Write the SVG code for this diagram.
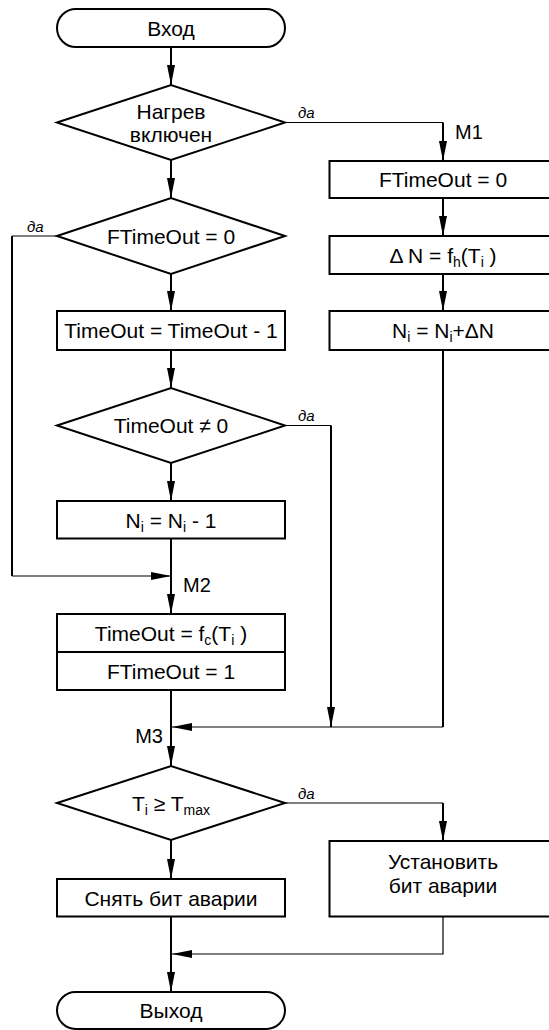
<svg xmlns="http://www.w3.org/2000/svg" width="549" height="1030" viewBox="0 0 549 1030">
<style>
.s{fill:#fff;stroke:#000;stroke-width:2}
.t{font-family:"Liberation Sans",Arial,sans-serif;font-size:21px;fill:#000;text-anchor:middle}
.l{font-family:"Liberation Sans",Arial,sans-serif;font-size:20px;fill:#000}
.y{font-family:"Liberation Sans",Arial,sans-serif;font-size:15px;font-style:italic;fill:#000}
.c{fill:none;stroke:#000;stroke-width:2}
.n{fill:none;stroke:#000;stroke-width:1.2}
.sub{font-size:14px}
</style>
<defs>
<marker id="a" markerUnits="userSpaceOnUse" markerWidth="20" markerHeight="8" refX="20" refY="4" orient="auto">
<path d="M0,0 L20,4 L0,8 z" fill="#000"/>
</marker>
</defs>
<rect width="549" height="1030" fill="#fff"/>
<g id="connectors">
<path class="c" d="M171,47 V85" marker-end="url(#a)"/>
<path class="n" d="M285,122.5 H443"/>
<path class="c" d="M443,122.5 V161" marker-end="url(#a)"/>
<path class="c" d="M171,160 V198" marker-end="url(#a)"/>
<path class="c" d="M443,198 V236" marker-end="url(#a)"/>
<path class="c" d="M443,274 V311" marker-end="url(#a)"/>
<path class="n" d="M57,236 H12"/>
<path class="c" d="M12,236 V576"/>
<path class="n" d="M12,576 H171" marker-end="url(#a)"/>
<path class="c" d="M171,274 V311" marker-end="url(#a)"/>
<path class="c" d="M171,350 V388" marker-end="url(#a)"/>
<path class="n" d="M285,425.5 H331"/>
<path class="c" d="M331,425.5 V727" marker-end="url(#a)"/>
<path class="c" d="M171,463 V501" marker-end="url(#a)"/>
<path class="c" d="M171,538.5 V614" marker-end="url(#a)"/>
<path class="c" d="M443,350 V727"/>
<path class="n" d="M443,727 H172" marker-end="url(#a)"/>
<path class="c" d="M171,690 V766" marker-end="url(#a)"/>
<path class="n" d="M285,803 H443"/>
<path class="c" d="M443,803 V841" marker-end="url(#a)"/>
<path class="c" d="M171,840 V879" marker-end="url(#a)"/>
<path class="c" d="M171,916.5 V992" marker-end="url(#a)"/>
<path class="n" d="M443,916.5 V954 H172" marker-end="url(#a)"/>
<text class="y" x="298" y="118">да</text>
<text class="y" x="27" y="232">да</text>
<text class="y" x="298" y="421">да</text>
<text class="y" x="298" y="799">да</text>
<text class="l" x="455" y="139">M1</text>
<text class="l" x="183" y="592">M2</text>
<text class="l" x="163" y="743" text-anchor="end">M3</text>
</g>
<g id="start">
<rect class="s" x="57" y="9" width="228" height="38" rx="19"/>
<text class="t" x="171" y="35.5">Вход</text>
</g>
<g id="heating">
<polygon class="s" points="57,122.5 171,85 285,122.5 171,160"/>
<text class="t" x="171" y="119">Нагрев</text>
<text class="t" x="171" y="142">включен</text>
</g>
<g id="ftimeout0">
<rect class="s" x="329.5" y="161" width="227" height="37"/>
<text class="t" x="443" y="187">FTimeOut = 0</text>
</g>
<g id="deltaN">
<rect class="s" x="329.5" y="236" width="227" height="38"/>
<text class="t" x="443" y="262.5">Δ N = f<tspan class="sub" dy="4">h</tspan><tspan dy="-4">(T</tspan><tspan class="sub" dy="4">i</tspan><tspan dy="-4"> )</tspan></text>
</g>
<g id="niplus">
<rect class="s" x="329.5" y="311" width="227" height="39"/>
<text class="t" x="443" y="338">N<tspan class="sub" dy="4">i</tspan><tspan dy="-4"> = N</tspan><tspan class="sub" dy="4">i</tspan><tspan dy="-4">+ΔN</tspan></text>
</g>
<g id="ftcheck">
<polygon class="s" points="57,236 171,198 285,236 171,274"/>
<text class="t" x="171" y="243.5">FTimeOut = 0</text>
</g>
<g id="timeoutdec">
<rect class="s" x="57" y="311" width="228" height="39"/>
<text class="t" x="171" y="338">TimeOut = TimeOut - 1</text>
</g>
<g id="timeoutcheck">
<polygon class="s" points="57,425.5 171,388 285,425.5 171,463"/>
<text class="t" x="171" y="433">TimeOut ≠ 0</text>
</g>
<g id="nidec">
<rect class="s" x="57" y="501" width="228" height="37.5"/>
<text class="t" x="171" y="527.5">N<tspan class="sub" dy="4">i</tspan><tspan dy="-4"> = N</tspan><tspan class="sub" dy="4">i</tspan><tspan dy="-4"> - 1</tspan></text>
</g>
<g id="settimeout">
<rect class="s" x="57" y="614" width="228" height="76"/>
<line class="c" x1="57" y1="652" x2="285" y2="652"/>
<text class="t" x="171" y="640.5">TimeOut = f<tspan class="sub" dy="4">c</tspan><tspan dy="-4">(T</tspan><tspan class="sub" dy="4">i</tspan><tspan dy="-4"> )</tspan></text>
<text class="t" x="171" y="678.5">FTimeOut = 1</text>
</g>
<g id="tmaxcheck">
<polygon class="s" points="57,803 171,766 285,803 171,840"/>
<text class="t" x="171" y="810.5">T<tspan class="sub" dy="4">i</tspan><tspan dy="-4"> ≥ T</tspan><tspan class="sub" dy="4">max</tspan></text>
</g>
<g id="setalarm">
<rect class="s" x="329.5" y="841" width="227" height="75.5"/>
<text class="t" x="443" y="869">Установить</text>
<text class="t" x="443" y="893">бит аварии</text>
</g>
<g id="clearalarm">
<rect class="s" x="57" y="879" width="228" height="37.5"/>
<text class="t" x="171" y="905.5">Снять бит аварии</text>
</g>
<g id="exit">
<rect class="s" x="57" y="992" width="228" height="37" rx="18.5"/>
<text class="t" x="171" y="1018">Выход</text>
</g>
</svg>
